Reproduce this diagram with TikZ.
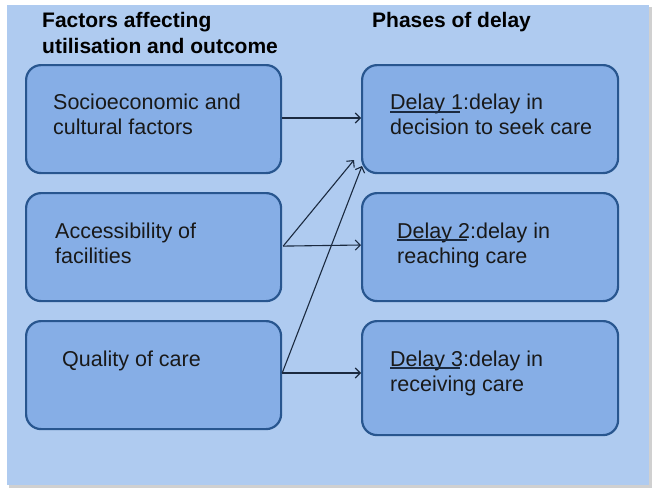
\documentclass[tikz,border=0pt]{standalone}
\usepackage{fontspec}
\setmainfont{Liberation Sans}
\usetikzlibrary{calc,arrows.meta}
\definecolor{panel}{HTML}{AFCBF0}
\definecolor{panelshadow}{HTML}{D0D0D0}
\definecolor{boxfill}{HTML}{86AEE6}
\definecolor{boxline}{HTML}{28568F}
\definecolor{arrowc}{HTML}{1B2A40}
\begin{document}
\begin{tikzpicture}[x=1pt,y=-1pt,
  box/.style={draw=boxline, line width=2.2pt, fill=boxfill, rounded corners=15pt,
    minimum width=255pt, minimum height=108pt, inner sep=0pt, anchor=north west},
  txt/.style={font=\fontsize{21.5}{25}\selectfont, text=black!90, align=left,
    anchor=base west, inner sep=0pt},
  head/.style={font=\fontsize{21}{25}\selectfont\bfseries, text=black, align=left,
    anchor=base west, inner sep=0pt},
  conn/.style={draw=arrowc, line width=1.1pt, -{Straight Barb[length=5pt,width=10pt]}},
  uline/.style={draw=arrowc, line width=1.3pt}]
\useasboundingbox (0,0) rectangle (655,495);
\fill[white] (0,0) rectangle (655,495);
\fill[panelshadow] (9,7) rectangle (652,488);
\fill[panel] (7,5) rectangle (649,485);
% headings (base anchor = last line's baseline)
\node[head] (h1) at (42,53) {Factors affecting\\utilisation and outcome};
\node[head] (h2) at (372,28) {Phases of delay};
% left boxes
\node[box] (f1) at (25,64) {};
\node[box] (f2) at (25,192) {};
\node[box] (f3) at (25,320) {};
% right boxes
\node[box, minimum width=256pt] (d1) at (361,64) {};
\node[box, minimum width=256pt] (d2) at (361,192) {};
\node[box, minimum width=256pt, minimum height=114pt] (d3) at (361,320) {};
% texts
\node[txt] (t1) at (53,134) {Socioeconomic and\\cultural factors};
\node[txt] (t2) at (55,263) {Accessibility of\\facilities};
\node[txt] (t3) at (62,366) {Quality of care};
\node[txt] (u1) at (390,134) {Delay 1:delay in\\decision to seek care};
\node[txt] (u2) at (397,263) {Delay 2:delay in\\reaching care};
\node[txt] (u3) at (390,391) {Delay 3:delay in\\receiving care};
% underlines
\coordinate (ul1a) at (390,112); \coordinate (ul1b) at (460,112);
\coordinate (ul2a) at (397,240); \coordinate (ul2b) at (467,240);
\coordinate (ul3a) at (390,368); \coordinate (ul3b) at (460,368);
\draw[uline] (ul1a) -- (ul1b);
\draw[uline] (ul2a) -- (ul2b);
\draw[uline] (ul3a) -- (ul3b);
% connectors
\coordinate (e1) at (354,160);
\coordinate (e2) at (362,166);
\draw[conn] (f1.east |- 0,118) -- (d1.west |- 0,118);
\draw[conn] ($(f2.east)+(1,-1)$) -- (d2.west |- 0,245);
\draw[conn] ($(f2.east)+(1,-1)$) -- (e1);
\draw[conn] (f3.east |- 0,373) -- (d3.west |- 0,373);
\draw[conn] (f3.east |- 0,373) -- (e2);
\end{tikzpicture}
\end{document}
